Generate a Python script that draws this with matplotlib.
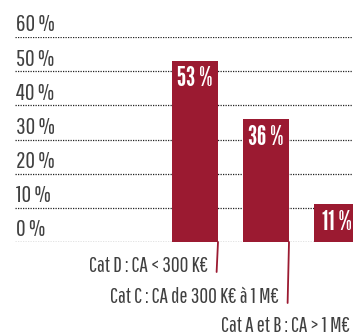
import matplotlib
matplotlib.use("Agg")
import matplotlib.pyplot as plt

# données
categories = ["Cat D : CA < 300 K€", "Cat C : CA de 300 K€ à 1 M€", "Cat A et B : CA > 1 M€"]
valeurs = [53, 36, 11]
graduations = [0, 10, 20, 30, 40, 50, 60]

rouge = "#9b1a31"
gris = "#404040"
police = ["Pathway Gothic One", "Roboto Condensed", "DejaVu Sans"]
police_gras = ["League Gothic", "Fjalla One", "Roboto Condensed", "DejaVu Sans"]

W, H = 353, 336
fig = plt.figure(figsize=(W / 100, H / 100), dpi=100)
# axe : de x=15 a 353 px, 0 % a y=242 px, 60 % a y=37 px
ax = fig.add_axes([15 / W, (H - 242) / H, (W - 15) / W, (242 - 37) / H])
ax.set_ylim(0, 60)
pas = 71.0  # px entre deux barres
ax.set_xlim((15 - 195) / pas, (W - 195) / pas)
largeur = 46 / pas

for g in graduations:
    ax.axhline(g, color="#222222", lw=0.9, ls=(0, (1, 1)), zorder=1)
    ax.annotate(f"{g} %", xy=(0, g), xycoords=("axes fraction", "data"),
                xytext=(1, 4), textcoords="offset points",
                ha="left", va="baseline", fontsize=17, color=gris,
                family=police, annotation_clip=False)

x = range(len(valeurs))
ax.bar(x, valeurs, width=largeur, color=rouge, zorder=2)

for xi, v in zip(x, valeurs):
    ax.annotate(f"{v} %", xy=(xi, v), xytext=(0, -4), textcoords="offset points",
                ha="center", va="top", fontsize=19, color="white",
                family=police_gras, zorder=3, annotation_clip=False)

# traits de rappel et libelles sous l'axe
descentes = [30, 61, 90]  # px sous la ligne 0 %
px = 72 / 100
for xi, lab, d in zip(x, categories, descentes):
    bord = xi + largeur / 2
    if xi < 2:
        ax.annotate("", xy=(bord, 0), xytext=(-1, -d * px), textcoords="offset points",
                    arrowprops=dict(arrowstyle="-", color=rouge, lw=1.3,
                                    shrinkA=0, shrinkB=0),
                    annotation_clip=False)
    ax.annotate(lab, xy=(bord, 0), xytext=(-10 * px, -d * px), textcoords="offset points",
                ha="right", va="baseline", fontsize=15.5, color=gris,
                family=police, annotation_clip=False)

ax.set_axis_off()
fig.savefig("out.png", dpi=100)
